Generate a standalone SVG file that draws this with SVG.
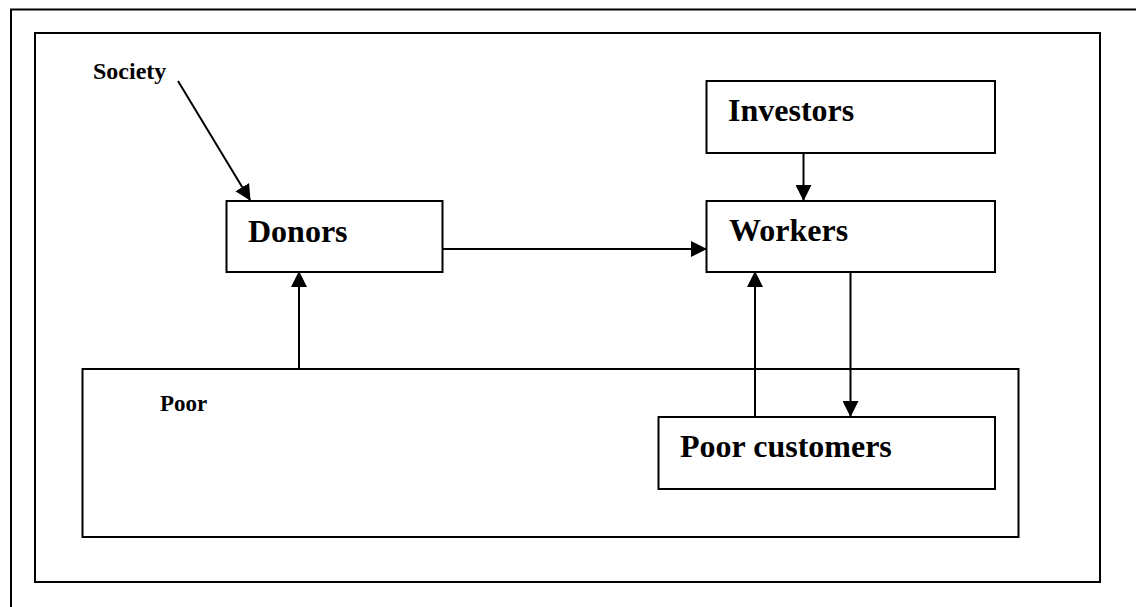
<svg xmlns="http://www.w3.org/2000/svg" width="1136" height="607" viewBox="0 0 1136 607">
<style>
.frame{fill:none;stroke:#000;stroke-width:2}
.box{fill:#fff;stroke:#000;stroke-width:2}
.big{font-family:"Liberation Serif","Times New Roman",serif;font-weight:bold;font-size:32px;fill:#000}
.small{font-family:"Liberation Serif","Times New Roman",serif;font-weight:bold;font-size:23px;fill:#000}
.conn{fill:none;stroke:#000;stroke-width:2}
</style>
<defs>
<marker id="arr" markerUnits="userSpaceOnUse" markerWidth="16" markerHeight="16" viewBox="0 0 16 16" refX="15" refY="8" orient="auto">
<path d="M0,0 L16,8 L0,16 z" fill="#000"/>
</marker>
</defs>
<g id="outer-frame">
<path class="frame" d="M11,607 L11,9.5 L1136,9.5"/>
<rect class="frame" x="35" y="33" width="1065" height="549"/>
</g>
<g id="poor">
<rect class="box" x="82.5" y="369" width="936" height="168"/>
<text class="small" x="160" y="411">Poor</text>
</g>
<g id="society">
<text class="small" x="93" y="79" style="font-size:24px">Society</text>
</g>
<g id="donors">
<rect class="box" x="226.5" y="201" width="216" height="71"/>
<text class="big" x="248" y="241.5">Donors</text>
</g>
<g id="investors">
<rect class="box" x="706.5" y="81" width="288.5" height="72"/>
<text class="big" x="728" y="121">Investors</text>
</g>
<g id="workers">
<rect class="box" x="706.5" y="201" width="288.5" height="71"/>
<text class="big" x="729" y="241">Workers</text>
</g>
<g id="poor-customers">
<rect class="box" x="658.5" y="417" width="336.5" height="72"/>
<text class="big" x="680" y="457">Poor customers</text>
</g>
<g id="connectors">
<line class="conn" x1="178" y1="81" x2="250" y2="200" marker-end="url(#arr)"/>
<line class="conn" x1="443" y1="249" x2="706" y2="249" marker-end="url(#arr)"/>
<line class="conn" x1="803.5" y1="153" x2="803.5" y2="200" marker-end="url(#arr)"/>
<line class="conn" x1="299" y1="369" x2="299" y2="272" marker-end="url(#arr)"/>
<line class="conn" x1="755" y1="417" x2="755" y2="272" marker-end="url(#arr)"/>
<line class="conn" x1="850.5" y1="272" x2="850.5" y2="416" marker-end="url(#arr)"/>
</g>
</svg>
